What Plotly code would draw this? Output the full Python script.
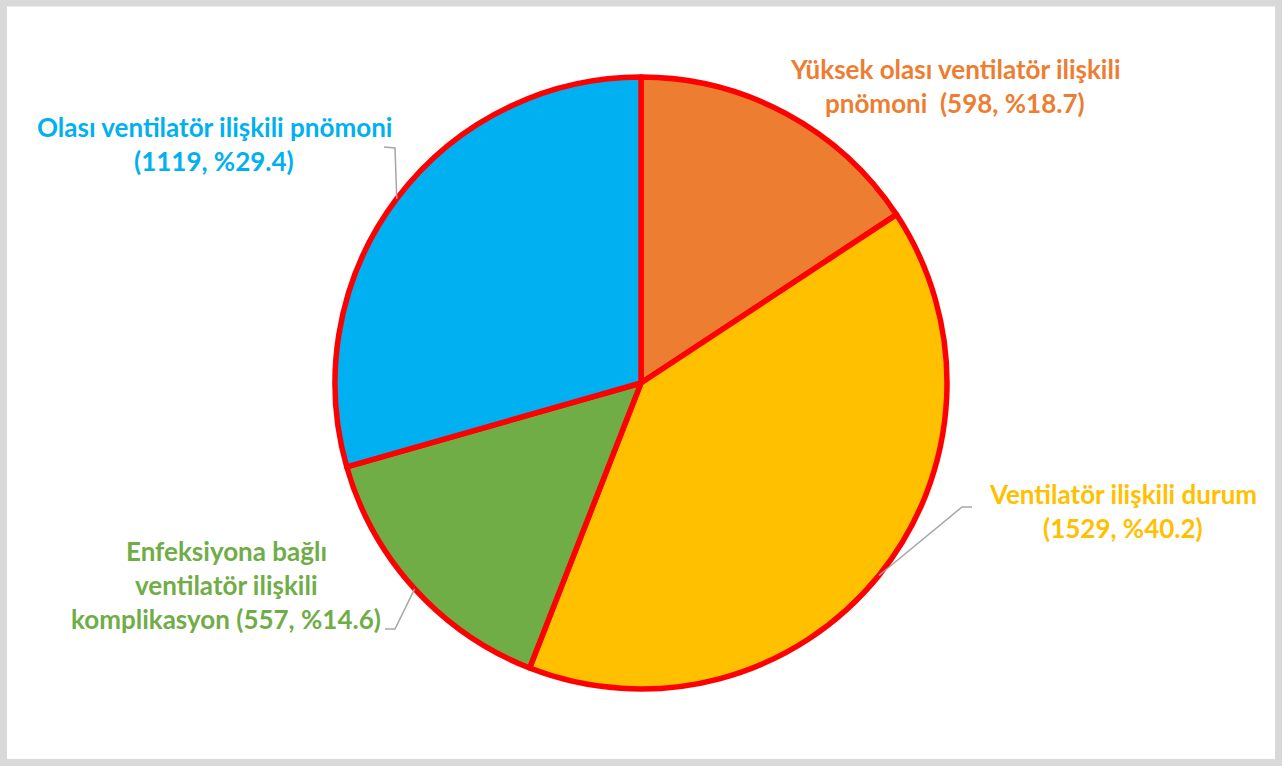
import math
import plotly.graph_objects as go

# ---- data ----
categories = [
    "Yüksek olası ventilatör ilişkili pnömoni",
    "Ventilatör ilişkili durum",
    "Enfeksiyona bağlı ventilatör ilişkili komplikasyon",
    "Olası ventilatör ilişkili pnömoni",
]
values = [598, 1529, 557, 1119]
percent_labels = ["%18.7", "%40.2", "%14.6", "%29.4"]
label_lines = [
    ["Yüksek olası ventilatör ilişkili", "pnömoni  (598, %18.7)"],
    ["Ventilatör ilişkili durum", "(1529, %40.2)"],
    ["Enfeksiyona bağlı", "ventilatör ilişkili", "komplikasyon (557, %14.6)"],
    ["Olası ventilatör ilişkili pnömoni", "(1119, %29.4)"],
]
colors = ["#ED7D31", "#FFC000", "#70AD47", "#00B0F0"]

# ---- layout constants (pixels) ----
W, H = 1284, 766
CX, CY, R = 641, 383, 306
FONT = "Lato"
FS = 26
LINE_H = 34
# label block centre (px) and leader-line elbow (px) per slice
label_centres = [(955, 86), (1123, 511), (226, 585), (214, 144)]
elbows = [None, ((972, 507), (962, 507)), ((385, 629), (395, 629)), ((384, 147), (395, 148))]


def px(x):
    return x / W


def py(y):
    return 1 - y / H


fig = go.Figure(
    go.Pie(
        labels=categories,
        values=values,
        sort=False,
        direction="clockwise",
        rotation=0,
        marker=dict(colors=colors, line=dict(color="#FF0000", width=5.5)),
        textinfo="none",
        hoverinfo="label+value",
        showlegend=False,
        domain=dict(x=[px(CX - R), px(CX + R)], y=[py(CY + R), py(CY - R)]),
    )
)

annotations = []
shapes = []
total = sum(values)
cum = 0
for i, v in enumerate(values):
    mid = (cum + v / 2) / total
    cum += v
    ang = 2 * math.pi * mid
    ex = CX + R * math.sin(ang)
    ey = CY - R * math.cos(ang)
    if elbows[i] is not None:
        (x0, y0), (x1, y1) = elbows[i]
        path = f"M {px(x0)} {py(y0)} L {px(x1)} {py(y1)} L {px(ex)} {py(ey)}"
        shapes.append(dict(type="path", xref="paper", yref="paper", path=path,
                           line=dict(color="#A6A6A6", width=1.5)))
    lx, ly = label_centres[i]
    n = len(label_lines[i])
    for k, t in enumerate(label_lines[i]):
        yy = ly + (k - (n - 1) / 2) * LINE_H
        annotations.append(dict(
            x=px(lx), y=py(yy), xref="paper", yref="paper", text=f"<b>{t}</b>",
            showarrow=False, xanchor="center", yanchor="middle",
            font=dict(family=FONT, size=FS, color=colors[i]),
        ))

# outer grey frame
shapes.append(dict(type="rect", xref="paper", yref="paper",
                   x0=px(3.5), x1=px(1278.5), y0=py(762.5), y1=py(3),
                   line=dict(color="#D9D9D9", width=7), fillcolor="rgba(0,0,0,0)"))

fig.update_layout(
    width=W, height=H,
    margin=dict(l=0, r=0, t=0, b=0),
    paper_bgcolor="white", plot_bgcolor="white",
    annotations=annotations, shapes=shapes,
)

fig.write_html(
    "out.html",
    config={"displayModeBar": False},
    post_script="document.body.style.margin='0';document.body.style.overflow='hidden';",
)
